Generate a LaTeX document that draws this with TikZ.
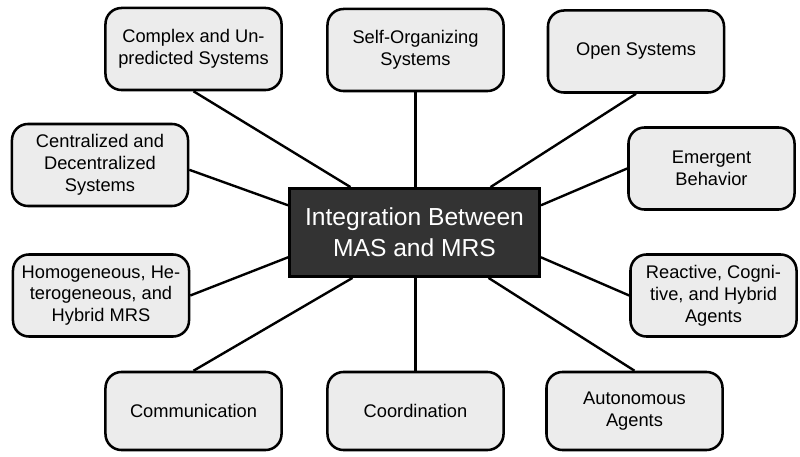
\documentclass[tikz,border=0pt]{standalone}
\usepackage{fontspec}
\setmainfont{Liberation Sans}
\usetikzlibrary{positioning}

\begin{document}
\begin{tikzpicture}[
    x=0.025cm, y=-0.025cm,
    topic/.style={rectangle, rounded corners=4mm, draw=black, fill=gray!15,
                  line width=1.8pt, minimum width=4.4cm, minimum height=2.05cm,
                  align=center, font=\fontsize{13}{15.5}\selectfont},
    hub/.style={rectangle, draw=black, fill=black!80, text=white,
                line width=2pt, minimum width=6.25cm, minimum height=2.2cm,
                align=center, font=\fontsize{17.5}{22}\selectfont},
    link/.style={line width=1.7pt, draw=black}
]
\useasboundingbox (0,0) rectangle (800,457);

% --- Nodo central ---
\node[hub] (mas) at (414.5,232.5) {Integration Between\\MAS and MRS};

% --- Nodos exteriores ---
\node[topic] (complex) at (193.5,49) {Complex and Un-\\predicted Systems};
\node[topic] (selforg) at (415.5,50) {Self-Organizing\\Systems};
\node[topic] (open) at (636,51.5) {Open Systems};

\node[topic] (central) at (100,165) {Centralized and\\Decentralized\\Systems};
\node[topic, minimum width=4.15cm] (emergent) at (711.5,168.5) {Emergent\\Behavior};

\node[topic] (homog) at (101,295.5) {Homogeneous, He-\\terogeneous, and\\Hybrid MRS};
\node[topic, minimum width=4.15cm] (reactive) at (713.5,295.5) {Reactive, Cogni-\\tive, and Hybrid\\Agents};

\node[topic, minimum height=1.95cm] (comm) at (193.5,411) {Communication};
\node[topic, minimum height=1.95cm] (coord) at (415.5,411) {Coordination};
\node[topic, minimum height=1.95cm] (auto) at (634.5,411) {Autonomous\\Agents};

% --- Conectores ---
\draw[link] (complex.south) -- ([xshift=-1.6cm]mas.north);
\draw[link] (selforg.south) -- (selforg.south |- mas.north);
\draw[link] (open.south) -- ([xshift=1.9cm]mas.north);

\draw[link] ([yshift=-0.12cm]central.east) -- ([yshift=0.68cm]mas.west);
\draw[link] (emergent.west) -- ([yshift=0.68cm]mas.east);
\draw[link] (homog.east) -- ([yshift=-0.62cm]mas.west);
\draw[link] (reactive.west) -- ([yshift=-0.62cm]mas.east);

\draw[link] (comm.north) -- ([xshift=-1.55cm]mas.south);
\draw[link] (coord.north) -- (coord.north |- mas.south);
\draw[link] (auto.north) -- ([xshift=1.85cm]mas.south);
\end{tikzpicture}
\end{document}
